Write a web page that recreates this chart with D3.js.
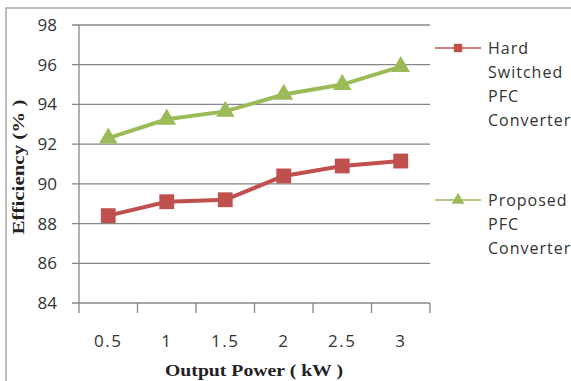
<!DOCTYPE html>
<html><head><meta charset="utf-8">
<script src="https://cdn.jsdelivr.net/npm/d3@7/dist/d3.min.js"></script>
<style>body{margin:0;background:#fff;overflow:hidden}svg{display:block}</style>
</head><body>
<svg id="c" width="571" height="381"></svg>
<script>
const categories = ["0.5", "1", "1.5", "2", "2.5", "3"];
const hardSwitched = [88.4, 89.1, 89.2, 90.4, 90.9, 91.15];
const proposed = [92.3, 93.25, 93.65, 94.5, 95.0, 95.9];
const yTicks = [84, 86, 88, 90, 92, 94, 96, 98];
const legendHard = ["Hard", "Switched", "PFC", "Converter"];
const legendProp = ["Proposed", "PFC", "Converter"];

const svg = d3.select("#c");
const L = 79, R = 430, T = 25, B = 303;
const x = d3.scaleBand().domain(categories).range([L, R]);
const y = d3.scaleLinear().domain([84, 98]).range([B, T]);
const gridC = "#868686";
const red = "#C0504D", green = "#9BBB59";
const sansF = "'Open Sans','Noto Sans',sans-serif";
const serifF = "'Liberation Serif','DejaVu Serif',serif";

// frame
svg.append("rect").attr("x", 6).attr("y", 8).attr("width", 700).attr("height", 500)
  .attr("fill", "none").attr("stroke", "#a8a8a8").attr("stroke-width", 1.5);

// gridlines
svg.append("g").selectAll("line").data(yTicks).join("line")
  .attr("x1", L - 7).attr("x2", R).attr("y1", d => y(d)).attr("y2", d => y(d))
  .attr("stroke", gridC).attr("stroke-width", 1.3);

// y axis
const yAxis = d3.axisLeft(y).tickValues(yTicks).tickSize(7).tickPadding(15);
const gy = svg.append("g").attr("transform", `translate(${L},0)`).call(yAxis);
gy.select(".domain").remove();
gy.selectAll(".tick line").remove();
gy.selectAll("text").attr("font-family", sansF).attr("font-size", 17).attr("fill", "#333");
svg.append("line").attr("x1", L).attr("x2", L).attr("y1", T).attr("y2", B + 10)
  .attr("stroke", gridC).attr("stroke-width", 1.3);

// x axis
const xAxis = d3.axisBottom(x).tickSize(0).tickPadding(32);
const gx = svg.append("g").attr("transform", `translate(0,${B})`).call(xAxis);
gx.select(".domain").remove();
gx.selectAll("text").attr("font-family", sansF).attr("font-size", 17)
  .attr("letter-spacing", 1.5).attr("fill", "#333");
const bounds = categories.map(c => x(c)).concat([x(categories[categories.length-1]) + x.bandwidth()]);
svg.append("g").selectAll("line").data(bounds.slice(1)).join("line")
  .attr("x1", d => d).attr("x2", d => d).attr("y1", B).attr("y2", B + 10)
  .attr("stroke", gridC).attr("stroke-width", 1.3);

const cx = c => x(c) + x.bandwidth() / 2;
const line = d3.line().x((d, i) => cx(categories[i])).y(d => y(d));

svg.append("path").datum(hardSwitched).attr("d", line).attr("fill", "none")
  .attr("stroke", red).attr("stroke-width", 4);
svg.append("path").datum(proposed).attr("d", line).attr("fill", "none")
  .attr("stroke", green).attr("stroke-width", 4);

const sq = d3.symbol().type(d3.symbolSquare).size(220);
const tri = d3.symbol().type(d3.symbolTriangle).size(150);
svg.append("g").selectAll("path").data(hardSwitched).join("path")
  .attr("d", sq).attr("transform", (d, i) => `translate(${cx(categories[i])},${y(d)})`)
  .attr("fill", red);
svg.append("g").selectAll("path").data(proposed).join("path")
  .attr("d", tri).attr("transform", (d, i) => `translate(${cx(categories[i])},${y(d)})`)
  .attr("fill", green);

// axis titles
svg.append("text").attr("x", 254).attr("y", 376).attr("text-anchor", "middle")
  .attr("font-family", serifF).attr("font-weight", "bold").attr("font-size", 17)
  .attr("textLength", 178).attr("lengthAdjust", "spacingAndGlyphs")
  .attr("fill", "#222").text("Output Power ( kW )");
svg.append("text").attr("transform", "translate(24,167) rotate(-90)").attr("text-anchor", "middle")
  .attr("font-family", serifF).attr("font-weight", "bold").attr("font-size", 16)
  .attr("textLength", 135).attr("lengthAdjust", "spacingAndGlyphs")
  .attr("fill", "#222").text("Efficiency (% )");

// legend
function legend(lines, y0, color, sym) {
  const g = svg.append("g");
  g.append("line").attr("x1", 435).attr("x2", 481).attr("y1", y0).attr("y2", y0)
    .attr("stroke", color).attr("stroke-width", 1.5);
  g.append("path").attr("d", sym).attr("transform", `translate(458,${y0})`).attr("fill", color);
  g.selectAll("text").data(lines).join("text")
    .attr("x", 488).attr("y", (d, i) => y0 + 6 + i * 24)
    .attr("font-family", sansF).attr("font-size", 16).attr("letter-spacing", 1)
    .attr("fill", "#333").text(d => d);
}
legend(legendHard, 48, red, d3.symbol().type(d3.symbolSquare).size(70)());
legend(legendProp, 200, green, d3.symbol().type(d3.symbolTriangle).size(70)());
</script>
</body></html>
